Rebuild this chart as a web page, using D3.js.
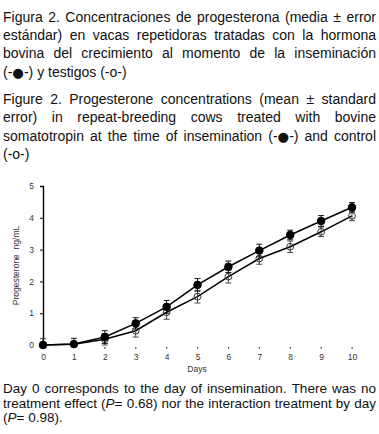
<!DOCTYPE html>
<html>
<head>
<meta charset="utf-8">
<script src="https://cdn.jsdelivr.net/npm/d3@7"></script>
<style>
  body { margin: 0; background: #fff; }
  svg { display: block; font-family: "Liberation Sans", Arial, sans-serif; }
</style>
</head>
<body>
<svg id="fig" width="379" height="434"></svg>
<script>
'use strict';

// data
var days = [0, 1, 2, 3, 4, 5, 6, 7, 8, 9, 10];
var treated = [0, 0.03, 0.25, 0.68, 1.2, 1.89, 2.46, 2.97, 3.46, 3.9, 4.33];
var treatedSE = [0.02, 0.18, 0.2, 0.18, 0.2, 0.2, 0.18, 0.2, 0.15, 0.17, 0.15];
var control = [0, 0.02, 0.18, 0.45, 1.03, 1.52, 2.15, 2.72, 3.09, 3.56, 4.06];
var controlSE = [0.2, 0.03, 0.18, 0.2, 0.22, 0.2, 0.2, 0.18, 0.18, 0.15, 0.15];
var yTicks = [0, 1, 2, 3, 4, 5];

// caption text, line breaks as in the original; *x* = italic
var captionEs = [
  "Figura 2. Concentraciones de progesterona (media ± error",
  "estándar) en vacas repetidoras  tratadas con la hormona",
  "bovina del crecimiento al momento de la inseminación",
  "(-●-) y testigos (-o-)"
];
var captionEn = [
  "Figure 2. Progesterone concentrations (mean ± standard",
  "error) in repeat-breeding cows treated with bovine",
  "somatotropin at the time of insemination (-●-) and control",
  "(-o-)"
];
var footNote = [
  "Day 0 corresponds to the day of insemination. There was no",
  "treatment effect (*P*= 0.68) nor the interaction treatment by day",
  "(*P*= 0.98)."
];

var svg = d3.select("#fig");

// justified paragraph, one text element per word
function paragraph(lines, x0, x1, y0, lh, fs) {
  var g = svg.append("g").attr("font-size", fs).attr("fill", "#111");
  lines.forEach(function(line, li) {
    var words = line.split(/ +/);
    var y = y0 + li * lh;
    var nodes = words.map(function(w) {
      var t = g.append("text").attr("y", y);
      w.split("*").forEach(function(seg, k) {
        if (seg === "") return;
        // bullet glyph gets its own bigger font
        seg.split(/(●)/).forEach(function(part) {
          if (part === "") return;
          var s = t.append("tspan").text(part);
          if (k % 2 == 1) s.attr("font-style", "italic");
          if (part == "●") s.attr("font-family", "DejaVu Sans").attr("font-size", fs * 0.95);
        });
      });
      return t;
    });
    var widths = nodes.map(function(t) { return t.node().getComputedTextLength(); });
    var total = d3.sum(widths);
    var gap = fs * 0.278;
    var last = li == lines.length - 1;
    if (!last && words.length > 1) gap = (x1 - x0 - total) / (words.length - 1);
    var x = x0;
    nodes.forEach(function(t, i) {
      t.attr("x", x);
      x += widths[i] + gap;
    });
  });
}

paragraph(captionEs, 3, 376, 21.5, 18.4, 14);
paragraph(captionEn, 3, 376, 104, 18.4, 14);
paragraph(footNote, 3, 376, 393, 14.5, 13.5);

// chart
var x = d3.scaleLinear().domain([0, 10]).range([43, 352]);
var y = d3.scaleLinear().domain([0, 5]).range([345, 186]);

var chart = svg.append("g");

var yAxis = d3.axisLeft(y).tickValues(yTicks).tickFormat(d3.format("d")).tickSize(3).tickPadding(6);
chart.append("g")
  .attr("transform", "translate(" + x(0) + ",0)")
  .call(yAxis)
  .call(function(g) {
    g.select(".domain").attr("stroke", "#000").attr("stroke-width", 1.4);
    g.selectAll(".tick line").attr("stroke", "#000");
    g.selectAll("text").attr("font-size", 8.5).attr("fill", "#333")
      .attr("font-family", "Liberation Sans, Arial, sans-serif");
  });

// x axis: no line, only small tick dots and labels
var xAxis = d3.axisBottom(x).tickValues(days).tickFormat(d3.format("d")).tickSize(0).tickPadding(9);
chart.append("g")
  .attr("transform", "translate(0," + y(0) + ")")
  .call(xAxis)
  .call(function(g) {
    g.select(".domain").remove();
    g.selectAll("text").attr("font-size", 8.5).attr("fill", "#333")
      .attr("font-family", "Liberation Sans, Arial, sans-serif");
  });
chart.selectAll(".xdot")
  .data(days.slice(2))
  .enter().append("rect")
  .attr("class", "xdot")
  .attr("x", function(d) { return x(d) - 0.5; })
  .attr("y", y(0) + 2)
  .attr("width", 1.2)
  .attr("height", 1.6)
  .attr("fill", "#333");

chart.append("text")
  .attr("transform", "translate(16," + y(2.5) + ") rotate(-90)")
  .attr("text-anchor", "middle")
  .attr("dy", "0.35em")
  .attr("font-size", 8.5)
  .attr("fill", "#333")
  .attr("xml:space", "preserve")
  .text("Progesterone  ng/mL");

chart.append("text")
  .attr("x", 197)
  .attr("y", 372)
  .attr("text-anchor", "middle")
  .attr("font-size", 8.5)
  .attr("fill", "#333")
  .text("Days");

function series(vals, se, filled) {
  var pts = days.map(function(d, i) { return { d: d, v: vals[i], e: se[i] }; });
  var line = d3.line().x(function(p) { return x(p.d); }).y(function(p) { return y(p.v); });
  var g = chart.append("g");
  g.append("path").datum(pts)
    .attr("d", line)
    .attr("fill", "none")
    .attr("stroke", "#000")
    .attr("stroke-width", 1.5);
  var eb = g.selectAll(".eb").data(pts).enter().append("g")
    .attr("stroke", filled ? "#000" : "#333")
    .attr("stroke-width", 0.9);
  eb.append("line")
    .attr("x1", function(p) { return x(p.d); })
    .attr("x2", function(p) { return x(p.d); })
    .attr("y1", function(p) { return y(Math.max(0, p.v - p.e)); })
    .attr("y2", function(p) { return y(p.v + p.e); });
  [1, -1].forEach(function(s) {
    eb.append("line")
      .attr("x1", function(p) { return x(p.d) - 3; })
      .attr("x2", function(p) { return x(p.d) + 3; })
      .attr("y1", function(p) { return y(Math.max(0, p.v + s * p.e)); })
      .attr("y2", function(p) { return y(Math.max(0, p.v + s * p.e)); });
  });
  g.selectAll("circle").data(pts).enter().append("circle")
    .attr("cx", function(p) { return x(p.d); })
    .attr("cy", function(p) { return y(p.v); })
    .attr("r", filled ? 3.8 : 3.4)
    .attr("fill", filled ? "#000" : "none")
    .attr("stroke", filled ? "#000" : "#333")
    .attr("stroke-width", 1);
}

series(control, controlSE, false);
series(treated, treatedSE, true);
</script>
</body>
</html>
